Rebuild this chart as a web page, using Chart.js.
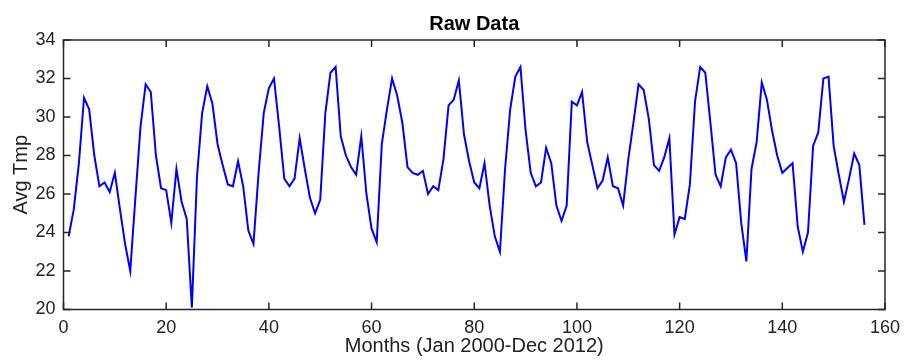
<!DOCTYPE html>
<html>
<head>
<meta charset="utf-8">
<script src="https://cdn.jsdelivr.net/npm/chart.js@4"></script>
<style>
  html, body { margin: 0; padding: 0; background: #ffffff; }
  #wrap { width: 904px; height: 361px; position: relative; }
</style>
</head>
<body>
<div id="wrap"><canvas id="c" width="904" height="361"></canvas></div>
<script>
// ---- Data ----
const chartTitle = "Raw Data";
const xAxisTitle = "Months (Jan 2000-Dec 2012)";
const yAxisTitle = "Avg Tmp";
const xTicks = [0, 20, 40, 60, 80, 100, 120, 140, 160];
const yTicks = [20, 22, 24, 26, 28, 30, 32, 34];
const avgTmp = [
  23.8, 25.2, 27.6, 31.0, 30.4, 28.0, 26.4, 26.6, 26.1, 27.1, 25.2, 23.4,
  22.0, 25.8, 29.5, 31.7, 31.3, 28.0, 26.3, 26.2, 24.5, 27.3, 25.6, 24.7,
  20.1, 26.9, 30.2, 31.6, 30.7, 28.6, 27.5, 26.5, 26.4, 27.7, 26.4, 24.1,
  23.4, 27.1, 30.2, 31.5, 32.0, 29.5, 26.8, 26.4, 26.8, 28.9, 27.3, 25.8,
  25.0, 25.7, 30.2, 32.3, 32.6, 29.0, 28.0, 27.4, 27.0, 29.0, 26.0, 24.2,
  23.5, 28.6, 30.4, 32.0, 31.1, 29.7, 27.4, 27.1, 27.0, 27.2, 26.0, 26.4,
  26.2, 27.8, 30.6, 30.9, 31.9, 29.1, 27.7, 26.6, 26.3, 27.6, 25.4, 23.8,
  23.0, 27.3, 30.4, 32.1, 32.6, 29.3, 27.1, 26.4, 26.6, 28.4, 27.6, 25.4,
  24.6, 25.4, 30.8, 30.6, 31.3, 28.7, 27.5, 26.3, 26.7, 27.9, 26.4, 26.3,
  25.4, 27.8, 29.7, 31.7, 31.4, 29.9, 27.5, 27.2, 27.9, 28.9, 23.9, 24.8,
  24.7, 26.5, 30.8, 32.6, 32.3, 29.7, 27.0, 26.4, 27.9, 28.3, 27.6, 24.5,
  22.5, 27.3, 28.7, 31.8, 30.9, 29.3, 28.0, 27.1, 27.35, 27.6, 24.3, 23.0,
  24.0, 28.5, 29.2, 32.0, 32.1, 28.5, 27.0, 25.6, 26.8, 28.1, 27.5, 24.4
];
// month index (1..156) for each observation
const months = avgTmp.map((_, i) => i + 1);

// ---- Styles ----
const FONT = "'Liberation Sans', Arial, Helvetica, sans-serif";
const AXIS_COLOR = '#262626';

const boxTicksPlugin = {
  id: 'boxTicks',
  afterDatasetsDraw(chart) {
    const {ctx, chartArea: a, scales} = chart;
    const xs = scales.x, ys = scales.y;
    const L = 7;
    ctx.save();
    ctx.strokeStyle = AXIS_COLOR;
    ctx.lineWidth = 1.5;
    ctx.beginPath();
    xTicks.forEach(v => {
      const px = xs.getPixelForValue(v);
      ctx.moveTo(px, a.bottom); ctx.lineTo(px, a.bottom - L);
      ctx.moveTo(px, a.top); ctx.lineTo(px, a.top + L);
    });
    yTicks.forEach(v => {
      const py = ys.getPixelForValue(v);
      ctx.moveTo(a.left, py); ctx.lineTo(a.left + L, py);
      ctx.moveTo(a.right, py); ctx.lineTo(a.right - L, py);
    });
    ctx.stroke();
    ctx.strokeRect(a.left, a.top, a.right - a.left, a.bottom - a.top);
    ctx.restore();
  }
};

new Chart(document.getElementById('c'), {
  type: 'line',
  data: {
    datasets: [{
      data: months.map((m, i) => ({x: m, y: avgTmp[i]})),
      borderColor: '#0000ff',
      borderWidth: 2,
      pointRadius: 0,
      fill: false,
      tension: 0
    }]
  },
  options: {
    responsive: false,
    animation: false,
    layout: { padding: { left: 0, right: 19, top: 0, bottom: 0 } },
    plugins: {
      legend: { display: false },
      tooltip: { enabled: false },
      title: {
        display: true,
        text: chartTitle,
        fullSize: false,
        color: '#000',
        font: { family: FONT, size: 20, weight: 'bold', lineHeight: 1.2 },
        padding: { top: 12.4, bottom: 3.6 }
      }
    },
    scales: {
      x: {
        type: 'linear',
        min: 0, max: 160,
        afterFit(s) { s.height = 51.5; s.paddingLeft = 0; s.paddingRight = 0; },
        afterBuildTicks(s) { s.ticks = xTicks.map(v => ({value: v})); },
        grid: { display: false, drawTicks: false },
        border: { display: false },
        ticks: {
          color: '#222', padding: 7.5, maxRotation: 0, autoSkip: false,
          font: { family: FONT, size: 18 }
        },
        title: {
          display: true, text: xAxisTitle, color: '#222',
          font: { family: FONT, size: 20 },
          padding: { top: 0, bottom: 3 }
        }
      },
      y: {
        type: 'linear',
        min: 20, max: 34,
        afterFit(s) { s.width = 63.5; s.paddingTop = 0; s.paddingBottom = 0; },
        afterBuildTicks(s) { s.ticks = yTicks.map(v => ({value: v})); },
        grid: { display: false, drawTicks: false },
        border: { display: false },
        ticks: {
          color: '#222', padding: 8, autoSkip: false,
          font: { family: FONT, size: 18 }
        },
        title: {
          display: true, text: yAxisTitle, color: '#222',
          font: { family: FONT, size: 20 },
          padding: { top: 9, bottom: 0 }
        }
      }
    }
  },
  plugins: [boxTicksPlugin]
});
</script>
</body>
</html>
